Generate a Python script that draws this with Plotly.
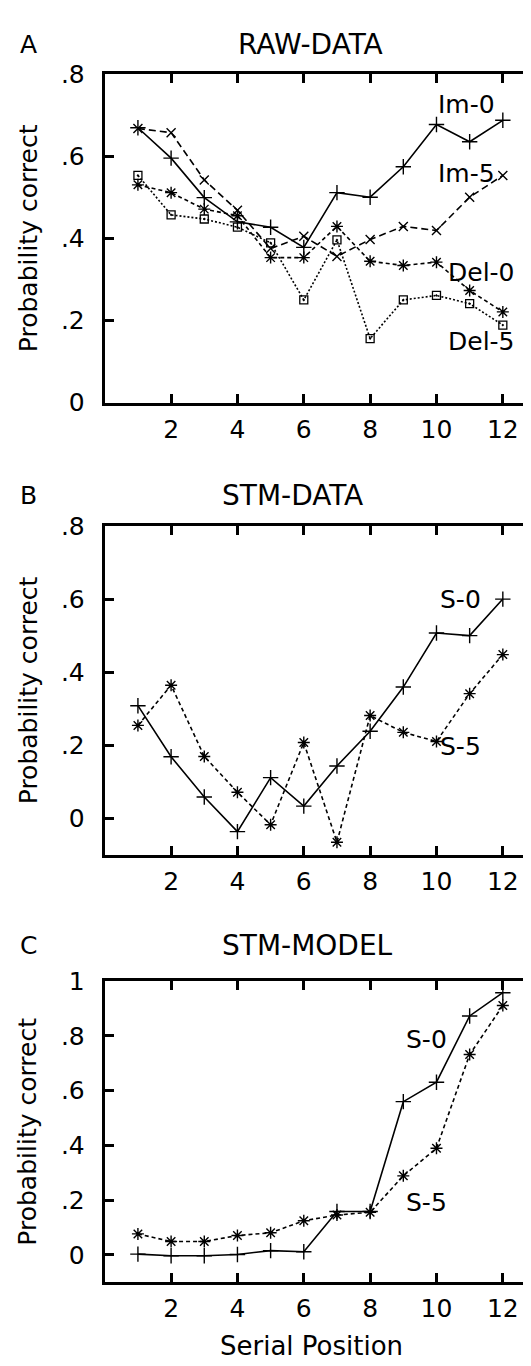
import plotly.graph_objects as go

# ---------------- data ----------------
positions = list(range(1, 13))

# Panel A: RAW-DATA
im0 = [0.669, 0.595, 0.499, 0.440, 0.427, 0.378, 0.511, 0.500, 0.574, 0.677, 0.635, 0.687]
im5 = [0.667, 0.657, 0.542, 0.468, 0.375, 0.405, 0.356, 0.397, 0.429, 0.419, 0.500, 0.553]
del0 = [0.530, 0.511, 0.471, 0.455, 0.353, 0.353, 0.429, 0.344, 0.334, 0.342, 0.273, 0.221]
del5 = [0.553, 0.457, 0.447, 0.427, 0.389, 0.250, 0.396, 0.156, 0.250, 0.261, 0.241, 0.189]

# Panel B: STM-DATA
stm_s0 = [0.308, 0.168, 0.058, -0.037, 0.111, 0.033, 0.143, 0.238, 0.359, 0.507, 0.500, 0.600]
stm_s5 = [0.254, 0.364, 0.169, 0.071, -0.018, 0.207, -0.066, 0.281, 0.235, 0.210, 0.341, 0.448]

# Panel C: STM-MODEL
mod_s0 = [0.003, -0.003, -0.003, 0.002, 0.016, 0.012, 0.159, 0.159, 0.560, 0.631, 0.873, 0.958]
mod_s5 = [0.077, 0.049, 0.049, 0.071, 0.081, 0.125, 0.146, 0.156, 0.289, 0.390, 0.732, 0.911]

x_ticks = [2, 4, 6, 8, 10, 12]
y_ticks_ab = [0, 0.2, 0.4, 0.6, 0.8]
y_text_ab = ["0", ".2", ".4", ".6", ".8"]
y_ticks_c = [0, 0.2, 0.4, 0.6, 0.8, 1.0]
y_text_c = ["0", ".2", ".4", ".6", ".8", "1"]

panel_letters = ["A", "B", "C"]
panel_titles = ["RAW-DATA", "STM-DATA", "STM-MODEL"]
y_title = "Probability correct"
x_title = "Serial Position"

# ---------------- layout geometry ----------------
W, H = 531, 1366
FONT = "DejaVu Sans"


def py(pix):
    return 1 - pix / H


x_dom = [97.3 / W, 1.0]
dom_a = [py(389), py(53)]
dom_b = [py(850.7), py(515)]
dom_c = [py(1287.7), py(980)]

fig = go.Figure()


def add_line(yvals, xa, ya, symbol, msize, dash, mlw=1.4):
    fig.add_trace(go.Scatter(
        x=positions, y=yvals, xaxis=xa, yaxis=ya, mode="lines+markers",
        line=dict(color="black", width=1.6, dash=dash),
        marker=dict(symbol=symbol, size=msize, color="black",
                    line=dict(color="black", width=mlw)),
        showlegend=False, hoverinfo="skip"))


# Panel A
add_line(im0, "x", "y", "cross-thin", 11, "solid")
add_line(im5, "x", "y", "x-thin", 9, "7px,4px")
add_line(del0, "x", "y", "asterisk-open", 10, "4px,3px")
add_line(del5, "x", "y", "square-open-dot", 8, "2px,2px", 1.3)
# Panel B
add_line(stm_s0, "x2", "y2", "cross-thin", 11, "solid")
add_line(stm_s5, "x2", "y2", "asterisk-open", 10, "4px,3px")
# Panel C
add_line(mod_s0, "x3", "y3", "cross-thin", 11, "solid")
add_line(mod_s5, "x3", "y3", "asterisk-open", 10, "4px,3px")

common_x = dict(range=[0, 13], tickvals=x_ticks, ticks="inside", ticklen=9,
                tickwidth=2.5, tickcolor="black", showline=True, linewidth=3,
                linecolor="black", mirror="ticks", showgrid=False, zeroline=False,
                tickfont=dict(family=FONT, size=25, color="black"),
                ticklabelstandoff=2, domain=x_dom)
common_y = dict(ticks="inside", ticklen=9, tickwidth=2.5, tickcolor="black",
                showline=True, linewidth=3, linecolor="black", mirror="ticks",
                showgrid=False, zeroline=False,
                tickfont=dict(family=FONT, size=25, color="black"),
                ticklabelstandoff=12)

fig.update_layout(
    width=W, height=H, margin=dict(l=0, r=0, t=0, b=0),
    paper_bgcolor="white", plot_bgcolor="white", showlegend=False,
    xaxis=dict(common_x, anchor="y"),
    yaxis=dict(common_y, domain=dom_a, range=[0, 0.8], tickvals=y_ticks_ab,
               ticktext=y_text_ab, anchor="x"),
    xaxis2=dict(common_x, anchor="y2"),
    yaxis2=dict(common_y, domain=dom_b, range=[-0.1, 0.8], tickvals=y_ticks_ab,
                ticktext=y_text_ab, anchor="x2"),
    xaxis3=dict(common_x, anchor="y3"),
    yaxis3=dict(common_y, domain=dom_c, range=[-0.1, 1.0], tickvals=y_ticks_c,
                ticktext=y_text_c, anchor="x3"),
)

ann = []
# panel letters and titles
letter_y = [23, 484, 944]
title_x = [304, 286, 301]
for i in range(3):
    ann.append(dict(text=panel_letters[i], x=21 / W, y=py(letter_y[i]), xref="paper",
                    yref="paper", showarrow=False, xanchor="center", yanchor="middle",
                    font=dict(family=FONT, size=25, color="black")))
    ann.append(dict(text=panel_titles[i], x=title_x[i] / W, y=py(letter_y[i]),
                    xref="paper", yref="paper", showarrow=False, xanchor="center",
                    yanchor="middle", font=dict(family=FONT, size=28, color="black")))

# y-axis titles
for dom in (dom_a, dom_b, dom_c):
    ann.append(dict(text=y_title, x=20 / W, y=(dom[0] + dom[1]) / 2, xref="paper",
                    yref="paper", showarrow=False, textangle=-90, xanchor="center",
                    yanchor="middle", font=dict(family=FONT, size=25, color="black")))

# x-axis title (bottom panel only)
ann.append(dict(text=x_title, x=305 / W, y=py(1353), xref="paper", yref="paper",
                showarrow=False, xanchor="center", yanchor="middle",
                font=dict(family=FONT, size=26, color="black")))

# curve labels
curve_labels = [
    ("Im-0", 10.9, 0.726, "x", "y"),
    ("Im-5", 10.9, 0.557, "x", "y"),
    ("Del-0", 11.37, 0.317, "x", "y"),
    ("Del-5", 11.37, 0.148, "x", "y"),
    ("S-0", 10.71, 0.598, "x2", "y2"),
    ("S-5", 10.71, 0.196, "x2", "y2"),
    ("S-0", 9.71, 0.787, "x3", "y3"),
    ("S-5", 9.71, 0.192, "x3", "y3"),
]
for txt, cx, cy, xr, yr in curve_labels:
    ann.append(dict(text=txt, x=cx, y=cy, xref=xr, yref=yr, showarrow=False,
                    xanchor="center", yanchor="middle",
                    font=dict(family=FONT, size=25, color="black")))

fig.update_layout(annotations=ann)
fig.write_html("out.html")
